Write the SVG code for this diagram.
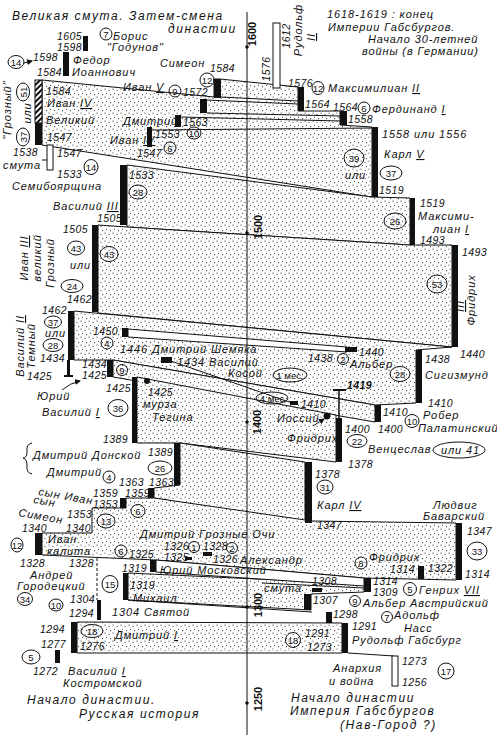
<svg xmlns="http://www.w3.org/2000/svg" width="497" height="735" viewBox="0 0 497 735">
<style>
text{font-family:"Liberation Sans","DejaVu Sans",sans-serif;font-style:italic;fill:#111}
.t{font-size:11px;letter-spacing:0.9px}
.n{font-size:10.5px;letter-spacing:0.4px}
.s{font-size:9.5px;text-anchor:middle;font-style:normal}
.cap{font-size:12px;letter-spacing:1.6px}
.b{font-size:11px;font-weight:bold;font-style:normal;text-anchor:middle}
.c{fill:none;stroke:#111;stroke-width:1}
.bar{fill:#111}
.ln{stroke:#111;stroke-width:1;fill:none}
.st{fill:url(#dots);stroke:#111;stroke-width:1}
.wb{fill:#fff;stroke:#111;stroke-width:1}
</style>
<defs>
<pattern id="dots" width="8" height="8" patternUnits="userSpaceOnUse">
<rect width="8" height="8" fill="#fff"/>
<circle cx="1" cy="1" r="0.55" fill="#222"/>
<circle cx="5" cy="2.5" r="0.55" fill="#222"/>
<circle cx="2.5" cy="5.2" r="0.55" fill="#222"/>
<circle cx="6.5" cy="6.6" r="0.55" fill="#222"/>
</pattern>
<pattern id="hatch" width="4" height="4" patternUnits="userSpaceOnUse" patternTransform="rotate(45)">
<rect width="4" height="4" fill="#fff"/>
<rect width="2" height="4" fill="#111"/>
</pattern>
<marker id="ah" markerWidth="6" markerHeight="6" refX="5" refY="3" orient="auto">
<path d="M0,0 L6,3 L0,6 z" fill="#111"/>
</marker>
</defs>

<g id="bands">
<polygon class="st" points="42,80 214,97 214,79 220,79 298,87 298,111 340,111 340,125 372,127 372,197 42,145"/>
<polygon class="st" points="127,165 372,197 410,198 410,245 127,227"/>
<polygon class="st" points="98,225 127,227 410,245 452,245 452,347 98,313"/>
<polygon class="st" points="74,311 452,347 416,350 416,403 375,405 113,360 74,360"/>
<polygon class="st" points="113,360 375,405 375,422 113,377"/>
<polygon class="st" points="137,377 336,415 336,462 180,443 137,443"/>
<polygon class="st" points="180,443 305,462 305,523 154,498 154,488 180,485"/>
<polygon class="st" points="126,498 154,498 312,521 456,523 456,580 364,578 156,560 42,555 42,533 92,533 92,508 126,508"/>
<polygon class="st" points="128,573 364,584 364,592 311,594 311,610 128,600"/>
<polygon class="st" points="77,622 342,623 342,653 77,653"/>
<polygon class="wb" points="128,329 347,347 347,352 128,337"/>
<polygon class="wb" points="156,560 364,578 364,586 156,572"/>
</g>

<g id="connectors">
<line class="ln" x1="247" y1="12" x2="247" y2="735"/>
<circle cx="247" cy="47" r="1.8" fill="#111"/>
<circle cx="247" cy="233" r="1.8" fill="#111"/>
<circle cx="247" cy="422" r="1.8" fill="#111"/>
<circle cx="247" cy="607" r="1.8" fill="#111"/>
<circle cx="247" cy="703" r="1.8" fill="#111"/>
<line class="ln" x1="221" y1="97" x2="298" y2="101"/>
<line class="ln" x1="207" y1="100" x2="298" y2="104"/>
<line class="ln" x1="207" y1="113" x2="340" y2="116"/>
<line class="ln" x1="181" y1="117" x2="340" y2="121"/>
<line class="ln" x1="152" y1="130" x2="372" y2="128"/>
<line class="ln" x1="168" y1="360" x2="292" y2="403"/>
<line class="ln" x1="262" y1="583" x2="364" y2="588"/>
<line class="ln" x1="128" y1="600" x2="312" y2="612"/>
<line class="ln" x1="348" y1="653" x2="394" y2="656"/>
<line class="ln" x1="42" y1="160" x2="53" y2="160"/>
<line x1="339" y1="390" x2="339" y2="418" stroke="#111" stroke-width="1.5"/>
<line x1="333" y1="390" x2="346" y2="390" stroke="#111" stroke-width="2"/>
<line class="ln" x1="97" y1="558" x2="97" y2="600" stroke-dasharray="3,2"/>
<path class="ln" d="M24,63 L32,61" marker-end="url(#ah)"/>
<path class="ln" d="M62,390 Q70,383 80,381" marker-end="url(#ah)"/>
<path class="ln" d="M313,426 L324,419" marker-end="url(#ah)"/>
<path class="ln" d="M32,443 Q26,444 27,452 Q27,458 23,458 Q27,459 27,465 Q26,473 32,474"/>
</g>

<g id="bars">
<rect class="bar" x="83" y="36" width="5" height="15"/>
<rect class="bar" x="63" y="52" width="6" height="24"/>
<rect x="35" y="80" width="7" height="43" fill="url(#hatch)" stroke="#111"/>
<rect class="bar" x="35" y="123" width="7" height="22"/>
<rect class="wb" x="47" y="145" width="6" height="25"/>
<rect class="bar" x="214" y="79" width="7" height="19"/>
<rect class="bar" x="200" y="99" width="7" height="14"/>
<rect class="bar" x="175" y="115" width="6" height="12"/>
<rect class="bar" x="147" y="127" width="5" height="20"/>
<rect class="bar" x="120" y="165" width="7" height="60"/>
<rect class="bar" x="92" y="225" width="6" height="87"/>
<rect class="bar" x="68" y="311" width="6" height="49"/>
<rect class="bar" x="67" y="360" width="3" height="17"/>
<rect class="bar" x="64" y="375" width="9" height="2"/>
<rect class="bar" x="107" y="360" width="6" height="17"/>
<rect class="bar" x="122" y="328" width="6" height="9"/>
<rect class="bar" x="161" y="357" width="11" height="6"/>
<rect class="bar" x="132" y="377" width="5" height="66"/>
<circle cx="147" cy="381" r="3" fill="#111"/>
<rect class="bar" x="174" y="443" width="6" height="42"/>
<rect class="bar" x="148" y="488" width="6" height="10"/>
<rect class="bar" x="120" y="498" width="6" height="10"/>
<rect class="bar" x="35" y="533" width="7" height="22"/>
<rect class="bar" x="185" y="557" width="7" height="3"/>
<rect class="bar" x="203" y="552" width="9" height="4"/>
<rect class="bar" x="150" y="560" width="6" height="12"/>
<rect class="bar" x="123" y="573" width="5" height="27"/>
<rect class="bar" x="97" y="600" width="4" height="20"/>
<rect class="bar" x="71" y="622" width="6" height="31"/>
<rect class="bar" x="55" y="650" width="5" height="13"/>
<rect class="wb" x="273" y="23" width="7" height="65"/>
<rect class="bar" x="298" y="87" width="6" height="24"/>
<rect class="bar" x="340" y="111" width="7" height="14"/>
<rect class="bar" x="372" y="127" width="6" height="70"/>
<rect class="bar" x="410" y="198" width="5" height="47"/>
<rect class="bar" x="452" y="245" width="6" height="102"/>
<rect class="bar" x="345" y="347" width="12" height="5"/>
<rect class="bar" x="416" y="350" width="6" height="53"/>
<rect class="bar" x="375" y="405" width="6" height="17"/>
<rect class="bar" x="290" y="401" width="8" height="4"/>
<circle cx="327" cy="416" r="3.5" fill="#111"/>
<rect class="bar" x="336" y="418" width="6" height="44"/>
<rect class="bar" x="305" y="462" width="7" height="61"/>
<rect class="bar" x="456" y="523" width="6" height="57"/>
<rect class="bar" x="418" y="566" width="6" height="13"/>
<rect class="bar" x="364" y="578" width="7" height="14"/>
<rect class="bar" x="312" y="588" width="10" height="4"/>
<rect class="bar" x="304" y="594" width="7" height="16"/>
<rect class="bar" x="326" y="612" width="6" height="11"/>
<rect class="bar" x="342" y="623" width="6" height="30"/>
<rect class="wb" x="392" y="656" width="6" height="30"/>
</g>

<g id="circles">
<circle class="c" cx="106" cy="34" r="6"/><text class="s" x="106" y="37.5">7</text>
<ellipse class="c" cx="16" cy="62" rx="8" ry="6.5"/><text class="s" x="16" y="65.5">14</text>
<ellipse class="c" cx="207" cy="80" rx="7" ry="7"/><text class="s" x="207" y="83.5">12</text>
<ellipse class="c" cx="23" cy="92" rx="6.5" ry="9"/><text class="s" transform="translate(26.5,92) rotate(-90)" x="0" y="0">51</text>
<ellipse class="c" cx="23" cy="137" rx="6.5" ry="9"/><text class="s" transform="translate(26.5,137) rotate(-90)" x="0" y="0">37</text>
<circle class="c" cx="175" cy="91" r="6"/><text class="s" x="175" y="94.5">9</text>
<ellipse class="c" cx="194" cy="133" rx="7" ry="6"/><text class="s" x="194" y="136.5">10</text>
<circle class="c" cx="170" cy="148" r="6"/><text class="s" x="170" y="151.5">6</text>
<ellipse class="c" cx="91" cy="167" rx="7" ry="7.5"/><text class="s" x="91" y="170.5">14</text>
<ellipse class="c" cx="138" cy="192" rx="9" ry="7"/><text class="s" x="138" y="195.5">28</text>
<ellipse class="c" cx="318" cy="88" rx="6" ry="6.5"/><text class="s" x="318" y="91.5">12</text>
<circle class="c" cx="364" cy="108" r="6"/><text class="s" x="364" y="111.5">6</text>
<ellipse class="c" cx="354" cy="158" rx="10" ry="9"/><text class="s" x="354" y="161.5">39</text>
<ellipse class="c" cx="391" cy="173" rx="11" ry="7"/><text class="s" x="391" y="176.5">37</text>
<ellipse class="c" cx="395" cy="221" rx="11" ry="8"/><text class="s" x="395" y="224.5">26</text>
<ellipse class="c" cx="437" cy="284" rx="10" ry="9"/><text class="s" x="437" y="287.5">53</text>
<ellipse class="c" cx="76" cy="248" rx="8.5" ry="7"/><text class="s" x="76" y="251.5">43</text>
<ellipse class="c" cx="109" cy="254" rx="9" ry="7.5"/><text class="s" x="109" y="257.5">43</text>
<ellipse class="c" cx="72" cy="286" rx="11" ry="6.5"/><text class="s" x="72" y="289.5">24</text>
<ellipse class="c" cx="53" cy="322" rx="8.5" ry="6"/><text class="s" x="53" y="325.5">37</text>
<ellipse class="c" cx="53" cy="345" rx="10" ry="6.5"/><text class="s" x="53" y="348.5">28</text>
<circle class="c" cx="107" cy="343" r="6"/><text class="s" x="107" y="346.5">4</text>
<circle class="c" cx="343" cy="359" r="5.5"/><text class="s" x="343" y="362.5">2</text>
<ellipse class="c" cx="290" cy="375" rx="17" ry="7"/><text class="s" x="290" y="378.5">1 мес.</text>
<ellipse class="c" cx="272" cy="398" rx="16" ry="6"/><text class="s" x="272" y="401.5">4 мес</text>
<ellipse class="c" cx="400" cy="374" rx="10" ry="7.5"/><text class="s" x="400" y="377.5">28</text>
<circle class="c" cx="122" cy="370" r="5.5"/><text class="s" x="122" y="373.5">9</text>
<ellipse class="c" cx="118" cy="408" rx="10" ry="8.5"/><text class="s" x="118" y="411.5">36</text>
<ellipse class="c" cx="412" cy="421" rx="7" ry="6.5"/><text class="s" x="412" y="424.5">10</text>
<ellipse class="c" cx="357" cy="441" rx="10" ry="6.5"/><text class="s" x="357" y="444.5">22</text>
<ellipse class="c" cx="459" cy="450" rx="26" ry="8"/>
<ellipse class="c" cx="160" cy="468" rx="12" ry="7"/><text class="s" x="160" y="471.5">26</text>
<circle class="c" cx="109" cy="477" r="6"/><text class="s" x="109" y="480.5">4</text>
<ellipse class="c" cx="325" cy="487" rx="8" ry="7"/><text class="s" x="325" y="490.5">31</text>
<ellipse class="c" cx="477" cy="551" rx="10" ry="9"/><text class="s" x="477" y="554.5">33</text>
<ellipse class="c" cx="138" cy="511" rx="7" ry="6.5"/><text class="s" x="138" y="514.5">6</text>
<ellipse class="c" cx="106" cy="521" rx="9" ry="7"/><text class="s" x="106" y="524.5">13</text>
<ellipse class="c" cx="17" cy="545" rx="6" ry="7"/><text class="s" x="17" y="548.5">12</text>
<circle class="c" cx="121" cy="551" r="6"/><text class="s" x="121" y="554.5">6</text>
<circle class="c" cx="194" cy="547" r="5.5"/><text class="s" x="194" y="550.5">1</text>
<circle class="c" cx="232" cy="548" r="5.5"/><text class="s" x="232" y="551.5">2</text>
<circle class="c" cx="361" cy="563" r="6"/><text class="s" x="361" y="566.5">8</text>
<circle class="c" cx="410" cy="589" r="6.5"/><text class="s" x="410" y="592.5">5</text>
<ellipse class="c" cx="110" cy="584" rx="8" ry="8.5"/><text class="s" x="110" y="587.5">15</text>
<ellipse class="c" cx="25" cy="599" rx="7.5" ry="6.5"/><text class="s" x="25" y="602.5">34</text>
<ellipse class="c" cx="56" cy="605" rx="7" ry="6"/><text class="s" x="56" y="608.5">10</text>
<circle class="c" cx="355" cy="601" r="5.5"/><text class="s" x="355" y="604.5">9</text>
<circle class="c" cx="387" cy="617" r="5.5"/><text class="s" x="387" y="620.5">7</text>
<ellipse class="c" cx="92" cy="631" rx="11" ry="6.5"/><text class="s" x="92" y="634.5">18</text>
<ellipse class="c" cx="293" cy="640" rx="7.5" ry="7.5"/><text class="s" x="293" y="643.5">18</text>
<ellipse class="c" cx="31" cy="657" rx="9" ry="7"/><text class="s" x="31" y="660.5">5</text>
<ellipse class="c" cx="446" cy="671" rx="8" ry="8"/><text class="s" x="446" y="674.5">17</text>
</g>

<g id="labels">
<text class="cap" x="12" y="20" letter-spacing="1.2">Великая смута. Затем-смена</text>
<text class="cap" x="168" y="33">династии</text>
<text class="n" x="57" y="40">1605</text>
<text class="t" x="113" y="40">Борис</text>
<text class="n" x="57" y="51">1598</text>
<text class="t" x="107" y="51">"Годунов"</text>
<text class="n" x="33" y="61">1598</text>
<text class="n" x="37" y="76">1584</text>
<text class="t" x="73" y="64">Федор</text>
<text class="t" x="72" y="76">Иоаннович</text>
<text class="t" x="160" y="67">Симеон</text>
<text class="n" x="210" y="72">1584</text>
<text class="t" transform="translate(11,110) rotate(-90)" text-anchor="middle">"Грозный"</text>
<text class="t" transform="translate(31,113) rotate(-90)" text-anchor="middle" font-size="10">или</text>
<text class="n" x="46" y="95">1584</text>
<text class="t" x="47" y="107">Иван <tspan text-decoration="underline">IV</tspan></text>
<text class="t" x="46" y="124">Великий</text>
<text class="n" x="47" y="141">1547</text>
<text class="t" x="123" y="91">Иван <tspan text-decoration="underline">V</tspan></text>
<text class="n" x="183" y="96">1572</text>
<text class="t" x="123" y="125">Дмитрий</text>
<text class="n" x="183" y="126">1563</text>
<text class="t" x="110" y="144">Иван <tspan text-decoration="underline">IV</tspan></text>
<text class="n" x="155" y="138">1553</text>
<text class="n" x="137" y="157">1547</text>
<text class="n" x="13" y="156">1538</text>
<text class="t" x="3" y="169">смута</text>
<text class="n" x="57" y="157">1547</text>
<text class="n" x="57" y="178">1533</text>
<text class="t" x="12" y="190">Семибоярщина</text>
<text class="n" x="129" y="179">1533</text>
<text class="t" x="53" y="210">Василий <tspan text-decoration="underline">III</tspan></text>
<text class="n" x="97" y="222">1505</text>
<text class="n" x="63" y="233">1505</text>

<text class="b" transform="translate(256,34) rotate(-90)">1600</text>
<text class="n" transform="translate(270,69) rotate(-90)" text-anchor="middle">1576</text>
<text class="n" transform="translate(290,36) rotate(-90)" text-anchor="middle">1612</text>
<text class="t" transform="translate(302,30) rotate(-90)" text-anchor="middle">Рудольф</text>
<text class="t" transform="translate(315,37) rotate(-90)" text-anchor="middle" text-decoration="underline">II</text>
<text class="t" x="327" y="18">1618-1619 : конец</text>
<text class="t" x="328" y="31">Империи Габсбургов.</text>
<text class="t" x="368" y="43">Начало 30-летней</text>
<text class="t" x="362" y="55">войны (в Германии)</text>
<text class="n" x="288" y="87">1576</text>
<text class="t" x="328" y="92">Максимилиан <tspan text-decoration="underline">II</tspan></text>
<text class="n" x="305" y="108" font-size="9.5">1564</text>
<text class="n" x="333" y="111">1564</text>
<text class="t" x="372" y="113">Фердинанд <tspan text-decoration="underline">I</tspan></text>
<text class="n" x="348" y="123">1558</text>
<text class="t" x="382" y="138">1558 или 1556</text>
<text class="t" x="384" y="158">Карл <tspan text-decoration="underline">V</tspan></text>
<text class="n" x="379" y="194">1519</text>
<text class="t" x="345" y="179">или</text>
<text class="n" x="420" y="207">1519</text>
<text class="t" x="418" y="220">Максими-</text>
<text class="t" x="433" y="233">лиан <tspan text-decoration="underline">I</tspan></text>
<text class="n" x="420" y="244">1493</text>
<text class="b" transform="translate(262,227) rotate(-90)">1500</text>
<text class="n" x="462" y="256">1493</text>
<text class="t" transform="translate(475,300) rotate(-90)" text-anchor="middle">Фридрих</text>
<text class="t" transform="translate(464,306) rotate(-90)" text-anchor="middle" text-decoration="underline">III</text>

<text class="t" transform="translate(28,258) rotate(-90)" text-anchor="middle">Иван <tspan text-decoration="underline">III</tspan></text>
<text class="t" transform="translate(41,258) rotate(-90)" text-anchor="middle">великий</text>
<text class="t" transform="translate(54,263) rotate(-90)" text-anchor="middle">Грозный</text>
<text class="t" x="70" y="269" font-size="10">или</text>
<text class="n" x="67" y="303">1462</text>
<text class="n" x="42" y="314">1462</text>
<text class="t" x="45" y="337" font-size="10">или</text>
<text class="n" x="40" y="362">1434</text>
<text class="t" transform="translate(24,346) rotate(-90)" text-anchor="middle">Василий <tspan text-decoration="underline">II</tspan></text>
<text class="t" transform="translate(35,346) rotate(-90)" text-anchor="middle">Темный</text>
<text class="n" x="93" y="335">1450</text>
<text class="t" x="120" y="353">1446 Дмитрий Шемяка</text>
<text class="n" x="308" y="362">1438</text>
<text class="n" x="359" y="356">1440</text>
<text class="t" x="350" y="368">Альбер</text>
<text class="n" x="425" y="363">1438</text>
<text class="n" x="460" y="358">1440</text>
<text class="t" x="177" y="366">1434 Василий</text>
<text class="t" x="228" y="377">Косой</text>
<text class="t" x="425" y="379">Сигизмунд</text>
<text class="n" x="27" y="380">1425</text>
<text class="n" x="82" y="368" font-size="10">1434</text>
<text class="n" x="82" y="379" font-size="10">1425</text>
<text class="n" x="106" y="392">1425</text>
<text class="t" x="37" y="400">Юрий</text>
<text class="t" x="42" y="416">Василий <tspan text-decoration="underline">I</tspan></text>
<text class="n" x="148" y="396" font-size="12">1425</text>
<text class="t" x="143" y="408">мурза</text>
<text class="t" x="152" y="421">Тегина</text>
<text class="n" x="347" y="389" font-size="12" font-weight="bold">1419</text>
<text class="n" x="301" y="408">1410</text>
<text class="n" x="428" y="407">1410</text>
<text class="n" x="383" y="416">1410</text>
<text class="t" x="423" y="419">Робер</text>
<text class="t" x="418" y="432">Палатинский</text>
<text class="b" transform="translate(261,422) rotate(-90)">1400</text>
<text class="t" x="277" y="422">Иоссий</text>
<text class="t" x="287" y="442">Фридрих</text>
<text class="n" x="345" y="433">1400</text>
<text class="n" x="378" y="433">1400</text>
<text class="t" x="368" y="453">Венцеслав</text>
<text class="t" x="441" y="454">или 41</text>
<text class="n" x="348" y="468">1378</text>
<text class="n" x="103" y="443">1389</text>
<text class="n" x="148" y="456">1389</text>
<text class="t" x="33" y="459">Дмитрий Донской</text>
<text class="t" x="47" y="476">Дмитрий</text>
<text class="n" x="119" y="486">1363</text>
<text class="n" x="149" y="486">1363</text>
<text class="n" x="315" y="478">1378</text>
<text class="t" x="317" y="509">Карл <tspan text-decoration="underline">IV</tspan></text>
<text class="n" x="317" y="529">1347</text>
<text class="t" x="433" y="509">Людвиг</text>
<text class="t" x="423" y="520">Баварский</text>
<text class="n" x="467" y="535">1347</text>
<text class="n" x="465" y="578">1314</text>

<text class="t" transform="translate(38,495) rotate(10)">сын Иван</text>
<text class="n" x="93" y="497">1359</text>
<text class="n" x="93" y="508">1353</text>
<text class="n" x="125" y="497">1359</text>
<text class="t" transform="translate(33,503) rotate(10)">сын</text>
<text class="t" transform="translate(18,516) rotate(10)">Симеон</text>
<text class="n" x="67" y="518">1353</text>
<text class="n" x="66" y="532">1340</text>
<text class="n" x="22" y="532">1340</text>
<text class="t" x="48" y="543">Иван</text>
<text class="t" x="47" y="555">калита</text>
<text class="n" x="20" y="567">1328</text>
<text class="n" x="69" y="567">1328</text>
<text class="t" x="140" y="538" font-size="10">Дмитрий Грозные Очи</text>
<text class="n" x="129" y="558">1325</text>
<text class="n" x="164" y="550" font-size="9.5">1326</text>
<text class="n" x="203" y="550" font-size="9.5">1328</text>
<text class="n" x="164" y="561" font-size="9">1325</text>
<text class="n" x="213" y="563" font-size="9.5">1326</text>
<text class="t" x="240" y="564">Александр</text>
<text class="t" x="369" y="561">Фридрих</text>
<text class="n" x="390" y="573" font-size="10">1314</text>
<text class="n" x="428" y="572">1322</text>
<text class="n" x="122" y="572">1319</text>
<text class="t" x="160" y="574" font-size="10">Юрий Московский</text>
<text class="n" x="373" y="585">1314</text>
<text class="n" x="373" y="596">1309</text>
<text class="t" x="419" y="594">Генрих <tspan text-decoration="underline">VII</tspan></text>
<text class="n" x="312" y="585">1308</text>
<text class="t" x="264" y="592">смута</text>
<text class="n" x="313" y="604">1307</text>
<text class="t" x="363" y="607">Альбер Австрийский</text>
<text class="t" x="30" y="579">Андрей</text>
<text class="t" x="17" y="590">Городецкий</text>
<text class="n" x="130" y="589">1319</text>
<text class="t" x="133" y="602">Михаил</text>
<text class="n" x="70" y="603">1304</text>
<text class="n" x="69" y="617">1294</text>
<text class="t" x="112" y="616">1304 Святой</text>
<text class="b" transform="translate(262,605) rotate(-90)">1300</text>
<text class="n" x="333" y="618">1298</text>
<text class="t" x="394" y="619">Адольф</text>
<text class="t" x="404" y="632">Насс</text>
<text class="n" x="352" y="630">1291</text>
<text class="n" x="305" y="637">1291</text>
<text class="n" x="307" y="651">1273</text>
<text class="t" x="352" y="644">Рудольф Габсбург</text>
<text class="n" x="40" y="633">1294</text>
<text class="n" x="41" y="648">1277</text>
<text class="t" x="115" y="639">Дмитрий <tspan text-decoration="underline">I</tspan></text>
<text class="n" x="80" y="650">1276</text>
<text class="n" x="33" y="675">1272</text>
<text class="t" x="68" y="675">Василий <tspan text-decoration="underline">I</tspan></text>
<text class="t" x="63" y="687">Костромской</text>
<text class="cap" x="27" y="704">Начало династии.</text>
<text class="cap" x="79" y="718">Русская история</text>
<text class="t" x="333" y="672">Анархия</text>
<text class="t" x="329" y="685">и война</text>
<text class="n" x="402" y="665">1273</text>
<text class="n" x="402" y="686">1256</text>
<text class="b" transform="translate(262,699) rotate(-90)">1250</text>
<text class="cap" x="291" y="702">Начало династии</text>
<text class="cap" x="290" y="715">Империя Габсбургов</text>
<text class="cap" x="340" y="729">(Нав-Город ?)</text>
</g>
</svg>
